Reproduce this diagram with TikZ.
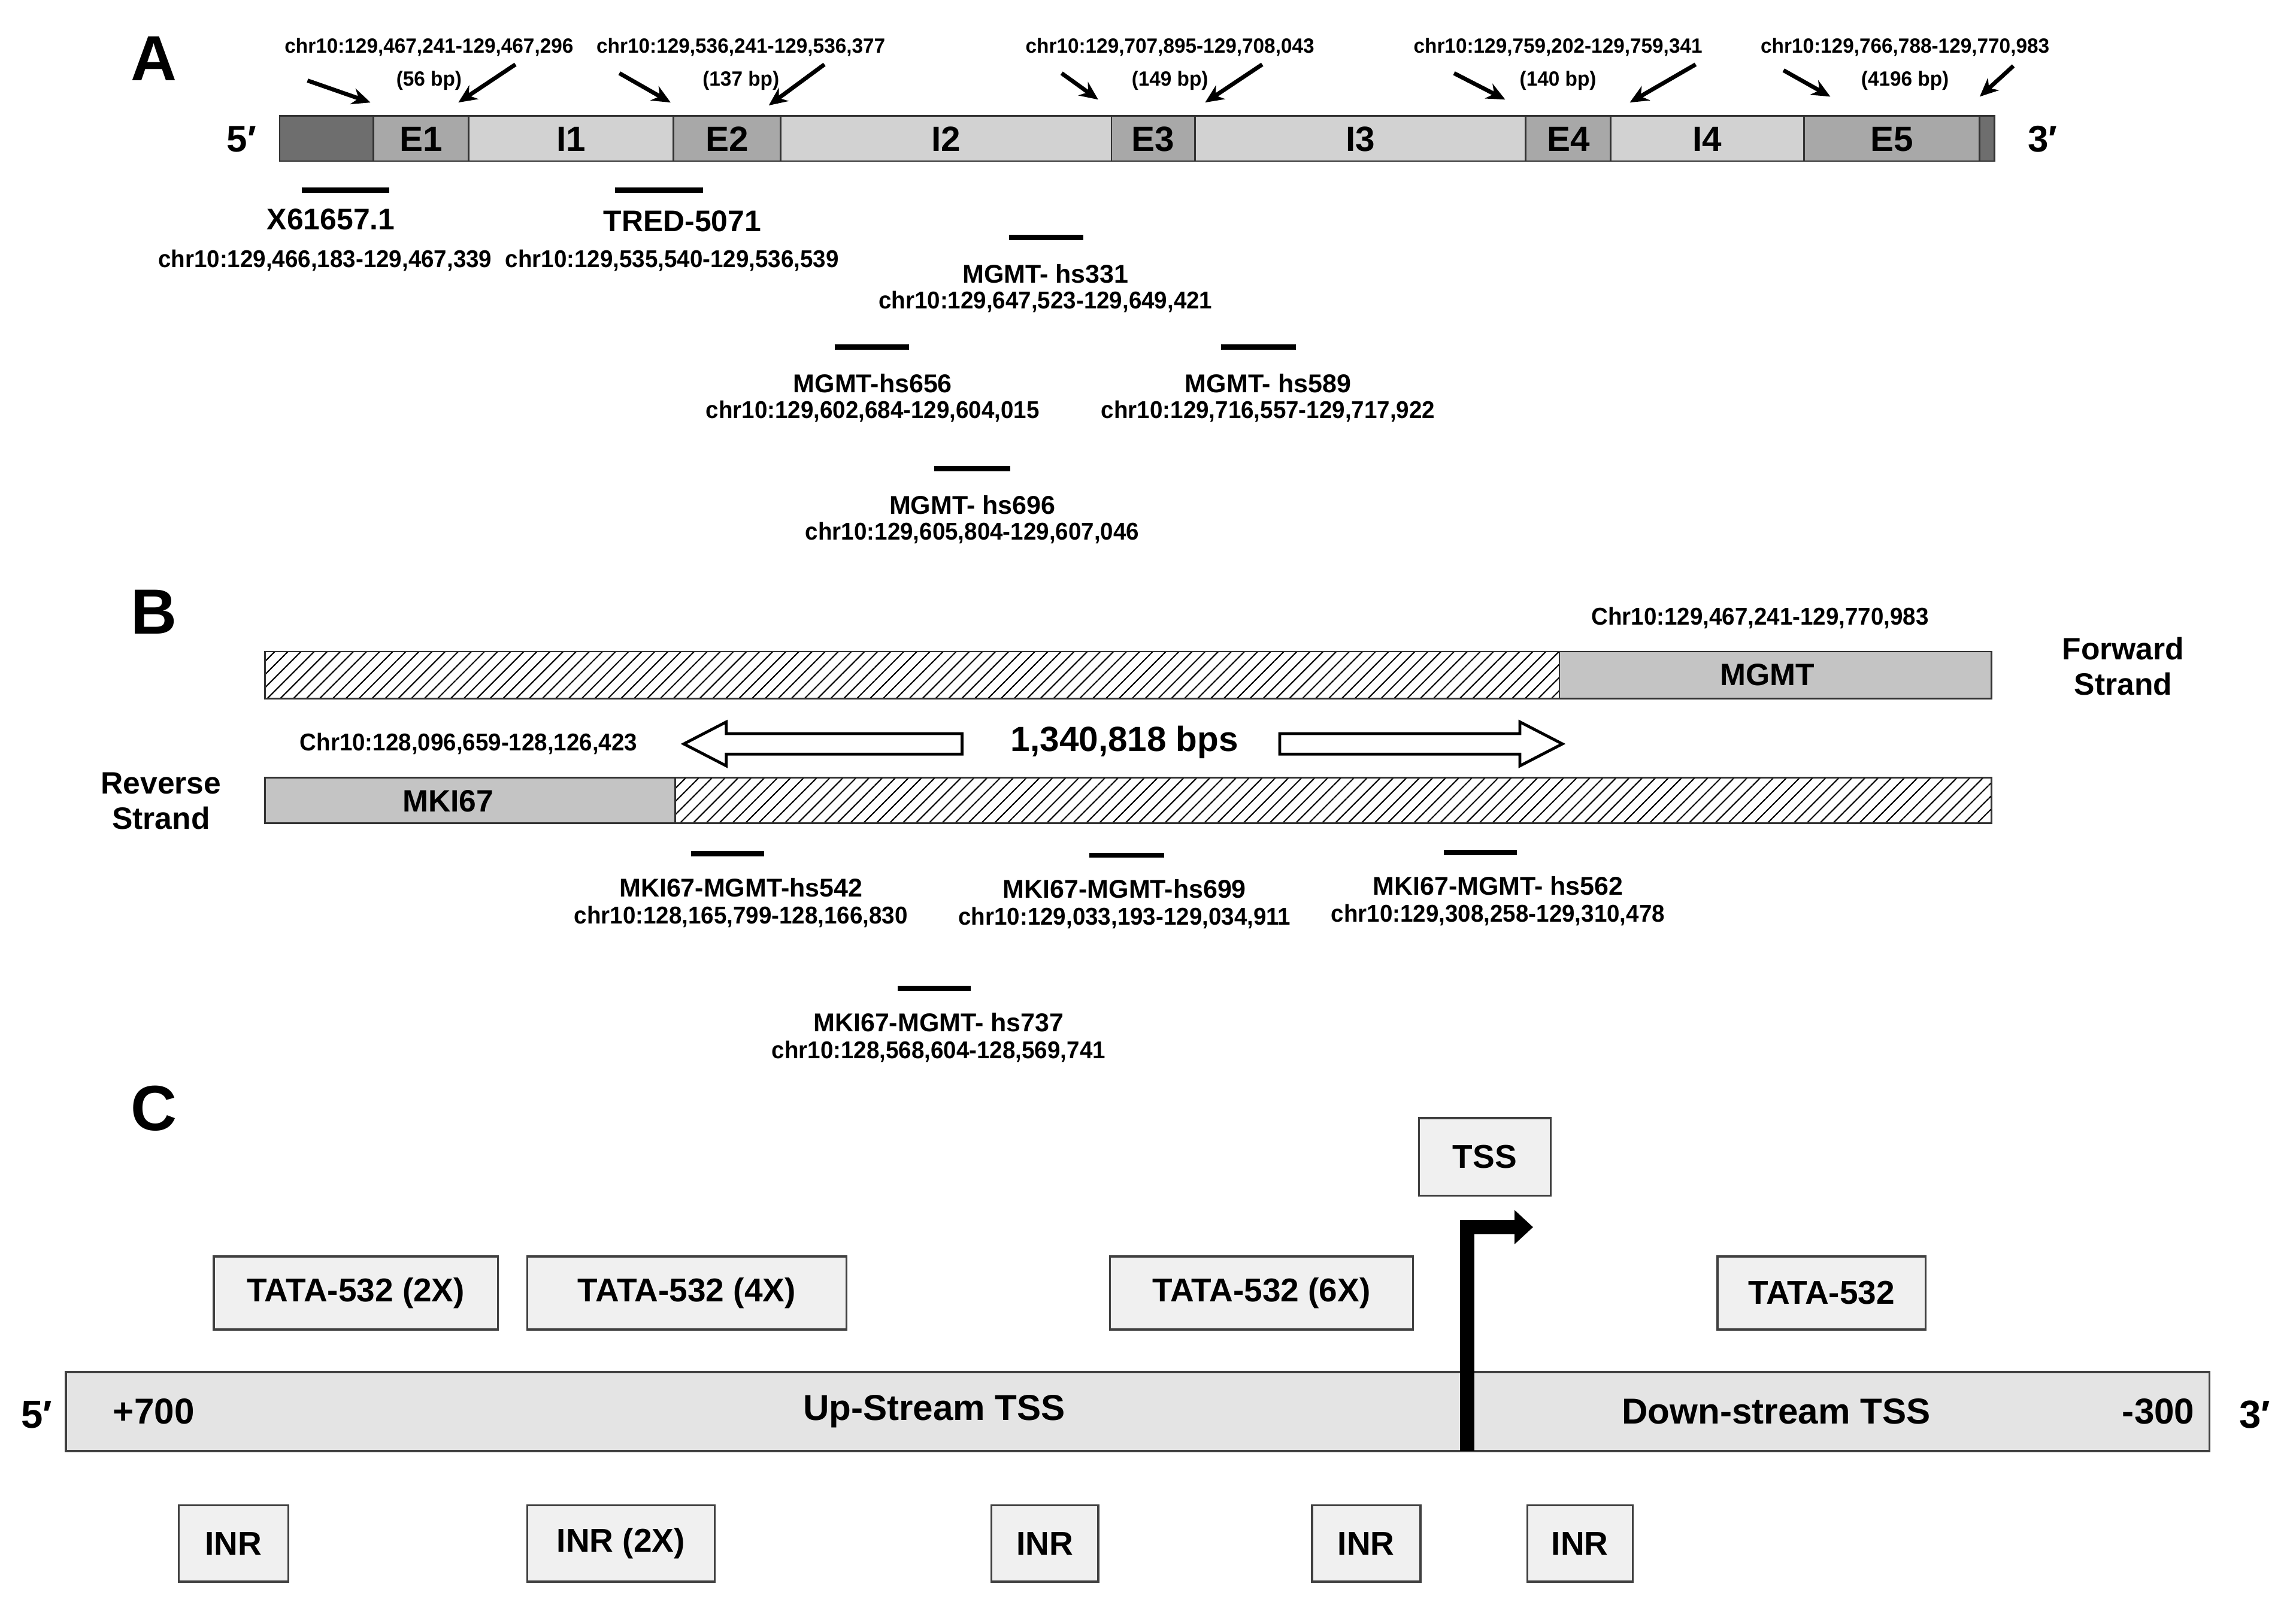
\documentclass[tikz,border=0pt]{standalone}
\usepackage{fontspec}
\setmainfont{Liberation Sans}
\usetikzlibrary{arrows.meta,patterns.meta}
\definecolor{dk}{HTML}{6E6E6E}
\definecolor{ex}{HTML}{A8A8A8}
\definecolor{in}{HTML}{D2D2D2}
\definecolor{gb}{HTML}{C4C4C4}
\definecolor{bx}{HTML}{F0F0F0}
\definecolor{bar}{HTML}{E4E4E4}
\begin{document}
\begin{tikzpicture}[x=0.025cm,y=-0.025cm,font=\bfseries,
 seg/.style={draw=black!80,line width=0.8pt},
 tiny/.style={font=\bfseries\fontsize{10}{11}\selectfont,xscale=0.97,inner sep=0},
 lab/.style={font=\bfseries\fontsize{12.5}{14}\selectfont,inner sep=0},
 chr/.style={font=\bfseries\fontsize{11.8}{13}\selectfont,xscale=0.95,inner sep=0},
 big/.style={font=\bfseries\fontsize{31}{32}\selectfont,inner sep=0},
 ptr/.style={-{Stealth[length=9pt,width=8pt]},line width=2pt},
 tick/.style={line width=2.6pt},
 hatch/.style={seg,pattern={Lines[angle=45,distance=4.5pt,line width=0.6pt]}},
 bxs/.style={draw=black!75,line width=1pt,fill=bx,font=\bfseries\fontsize{16}{18}\selectfont},
 strand/.style={font=\bfseries\fontsize{15}{17}\selectfont,align=center,inner sep=0}]
\useasboundingbox (0,0) rectangle (1568,1098);
% ---------- A
\node[big] (A) at (105,40) {A};
\foreach \a/\b/\c/\t in {191/255/dk/,255/320/ex/E1,320/460/in/I1,460/533/ex/E2,533/759/in/I2,759/816/ex/E3,816/1042/in/I3,1042/1100/ex/E4,1100/1232/in/I4,1232/1352/ex/E5,1352/1362/dk/}
 {\draw[seg,fill=\c] (\a,79) rectangle (\b,110);
  \node[font=\bfseries\fontsize{17}{18}\selectfont] at ({(\a+\b)/2},95) {\t};}
\node[font=\bfseries\fontsize{18}{18}\selectfont] (p5) at (165,95) {5′};
\node[font=\bfseries\fontsize{18}{18}\selectfont] (p3) at (1395,95) {3′};
\foreach \x/\c/\l in {293/{chr10:129,467,241-129,467,296}/56 bp,506/{chr10:129,536,241-129,536,377}/137 bp,799/{chr10:129,707,895-129,708,043}/149 bp,1064/{chr10:129,759,202-129,759,341}/140 bp,1301/{chr10:129,766,788-129,770,983}/4196 bp}
 {\node[tiny] at (\x,32) {\c}; \node[tiny] at (\x,55) {(\l)};}
\foreach \a/\b/\c/\d in {210/55/253/70,352/44/313/70,423/50/458/70,563/44/525/72,725/50/750/68,862/44/823/70,993/50/1028/68,1158/44/1113/70,1218/48/1250/66,1375/45/1352/66}
 {\coordinate (s) at (\a,\b); \coordinate (e) at (\c,\d); \draw[ptr] (s) -- (e);}
\draw[tick] (206,130) -- (266,130);
\node[font=\bfseries\fontsize{14.5}{16}\selectfont,inner sep=0] at (226,150) {X61657.1};
\node[chr] at (222,178) {chr10:129,466,183-129,467,339};
\draw[tick] (420,130) -- (480,130);
\node[font=\bfseries\fontsize{14.5}{16}\selectfont,inner sep=0] at (466,151) {TRED-5071};
\node[chr] at (459,178) {chr10:129,535,540-129,536,539};
\foreach \a/\b/\y/\x/\l/\c in {689/740/162/714/MGMT- hs331/{chr10:129,647,523-129,649,421},570/621/237/596/MGMT-hs656/{chr10:129,602,684-129,604,015},834/885/237/866/MGMT- hs589/{chr10:129,716,557-129,717,922},638/690/320/664/MGMT- hs696/{chr10:129,605,804-129,607,046}}
 {\draw[tick] (\a,\y) -- (\b,\y); \node[lab] at (\x,\y+25) {\l}; \node[chr] at (\x,\y+44) {\c};}
% ---------- B
\node[big] (B) at (105,418) {B};
\node[chr] at (1202,422) {Chr10:129,467,241-129,770,983};
\draw[hatch] (181,445) rectangle (1065,477);
\draw[seg,fill=gb] (1065,445) rectangle (1360,477);
\node[lab,font=\bfseries\fontsize{15}{16}\selectfont] at (1207,461) {MGMT};
\node[strand] at (1450,455) {Forward\\Strand};
\node[chr] at (320,508) {Chr10:128,096,659-128,126,423};
\node[font=\bfseries\fontsize{17}{18}\selectfont,inner sep=0] at (768,507) {1,340,818 bps};
\draw[line width=1.4pt,fill=white] (657,501) -- (496,501) -- (496,493) -- (467,508) -- (496,523) -- (496,515) -- (657,515) -- cycle;
\draw[line width=1.4pt,fill=white] (874,501) -- (1038,501) -- (1038,493) -- (1067,508) -- (1038,523) -- (1038,515) -- (874,515) -- cycle;
\node[strand] at (110,547) {Reverse\\Strand};
\draw[seg,fill=gb] (181,531) rectangle (461,562);
\draw[hatch] (461,531) rectangle (1360,562);
\node[lab,font=\bfseries\fontsize{15}{16}\selectfont] at (306,547) {MKI67};
\foreach \a/\b/\y/\x/\l/\c in {472/522/583/506/MKI67-MGMT-hs542/{chr10:128,165,799-128,166,830},744/795/584/768/MKI67-MGMT-hs699/{chr10:129,033,193-129,034,911},986/1036/582/1023/MKI67-MGMT- hs562/{chr10:129,308,258-129,310,478},613/663/675/641/MKI67-MGMT- hs737/{chr10:128,568,604-128,569,741}}
 {\draw[tick] (\a,\y) -- (\b,\y); \node[lab] at (\x,\y+23) {\l}; \node[chr] at (\x,\y+43) {\c};}
% ---------- C
\node[big] (C) at (105,757) {C};
\draw[draw=black!75,line width=1pt,fill=bar] (45,937) rectangle (1509,991);
\node[font=\bfseries\fontsize{19}{20}\selectfont] at (25,966) {5′};
\node[font=\bfseries\fontsize{19}{20}\selectfont] at (1540,966) {3′};
\foreach \x/\t in {105/+700,638/Up-Stream TSS,1213/Down-stream TSS,1474/-300}
 \node[font=\bfseries\fontsize{17.5}{19}\selectfont] at (\x,964) {\t};
\node[bxs,minimum width=90*0.025cm,minimum height=53*0.025cm] (tss) at (1014,790) {TSS};
\coordinate (tb) at (1002,991); \coordinate (tk) at (1002,838); \coordinate (tt) at (1047,838);
\draw[line width=7pt,-{Triangle[length=9pt,width=16pt]}] (tb) -- (tk) -- (tt);
\foreach \a/\b/\t in {146/340/TATA-532 (2X),360/578/TATA-532 (4X),758/965/TATA-532 (6X),1173/1315/TATA-532}
 \node[bxs,minimum width={(\b-\a)*0.025cm},minimum height=50*0.025cm] at ({(\a+\b)/2},883) {\t};
\foreach \a/\b/\t in {122/197/INR,360/488/INR (2X),677/750/INR,896/970/INR,1043/1115/INR}
 \node[bxs,minimum width={(\b-\a)*0.025cm},minimum height=52*0.025cm] at ({(\a+\b)/2},1054) {\t};
\end{tikzpicture}
\end{document}
